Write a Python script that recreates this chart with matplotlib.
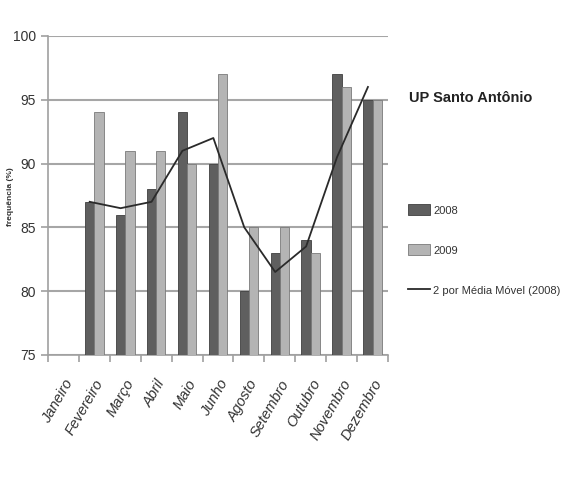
import numpy as np
import matplotlib.pyplot as plt
from matplotlib.patches import Patch
from matplotlib.lines import Line2D

meses = ['Janeiro', 'Fevereiro', 'Março', 'Abril', 'Maio', 'Junho', 'Agosto',
         'Setembro', 'Outubro', 'Novembro', 'Dezembro']
v2008 = [np.nan, 87, 86, 88, 94, 90, 80, 83, 84, 97, 95]
v2009 = [np.nan, 94, 91, 91, 90, 97, 85, 85, 83, 96, 95]
media_movel = [np.nan, 87, 86.5, 87, 91, 92, 85, 81.5, 83.5, 90.5, 96]

plt.rcParams['font.family'] = ['Liberation Sans', 'DejaVu Sans']

fig = plt.figure(figsize=(5.64, 4.79), dpi=100)
ax = fig.add_axes([0.085, 0.259, 0.603, 0.666])

x = np.arange(len(meses))
w = 0.3
ax.bar(x - w / 2, v2008, w, bottom=0, color='#5f5f5f', edgecolor='#404040', linewidth=0.6, zorder=3)
ax.bar(x + w / 2, v2009, w, bottom=0, color='#b4b4b4', edgecolor='#7a7a7a', linewidth=0.6, zorder=3)
ax.plot(x - w / 2, media_movel, color='#2a2a2a', linewidth=1.3, zorder=4)

ax.set_ylim(75, 100)
ax.set_xlim(-0.5, len(meses) - 0.5)
ax.set_yticks([75, 80, 85, 90, 95, 100])
ax.yaxis.grid(True, color='#a6a6a6', linewidth=1.5, zorder=0)
ax.set_axisbelow(True)
for s in ['top', 'right']:
    ax.spines[s].set_visible(False)
for s in ['left', 'bottom']:
    ax.spines[s].set_color('#a0a0a0')
    ax.spines[s].set_linewidth(1.2)

ax.set_xticks(x)
ax.set_xticklabels(meses, rotation=60, ha='right', rotation_mode='anchor',
                   fontsize=10.5, style='italic', color='#333333')
ax.tick_params(axis='x', length=0, pad=16)
ax.set_xticks(np.arange(-0.5, len(meses)), minor=True)
ax.tick_params(axis='x', which='minor', length=5, color='#a0a0a0', width=1.2)
ax.tick_params(axis='y', length=5, color='#a0a0a0', width=1.2, labelsize=10, labelcolor='#333333')

fig.text(0.018, 0.59, 'frequência (%)', rotation=90, fontsize=6, fontweight='bold',
         ha='center', va='center', color='#333333')
fig.text(0.725, 0.795, 'UP Santo Antônio', fontsize=10.5, fontweight='bold',
         ha='left', va='center', color='#222222')

handles = [Patch(facecolor='#5f5f5f', edgecolor='#404040', linewidth=0.6),
           Patch(facecolor='#b4b4b4', edgecolor='#7a7a7a', linewidth=0.6),
           Line2D([0], [0], color='#2a2a2a', linewidth=1.3)]
fig.legend(handles, ['2008', '2009', '2 por Média Móvel (2008)'], loc='upper left',
           bbox_to_anchor=(0.705, 0.594), frameon=False, fontsize=8,
           handlelength=2.0, handleheight=1.1, handletextpad=0.3, labelspacing=2.6,
           labelcolor='#333333')

fig.savefig('out.png', dpi=100, facecolor='white')
